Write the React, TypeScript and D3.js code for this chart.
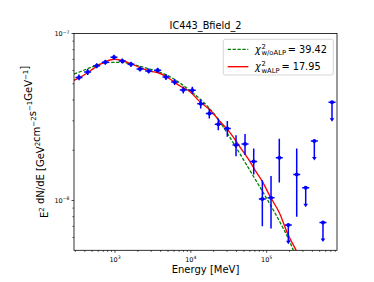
import React, { useEffect, useRef } from 'react';
import * as d3 from 'd3';

const W = 374;
const H = 282;
const FONT = '"DejaVu Sans", "Liberation Sans", sans-serif';

// Fermi-LAT SED points (detections)
const detEnergy = [335, 436, 574, 745, 970, 1248, 1626, 2136, 2782, 3654, 4700, 6120, 7950, 10450, 13490, 17510, 23000, 30250, 39400, 51800, 67400, 87600, 114000, 146600, 248700];
const detFlux = [5.46e-8, 5.88e-8, 6.41e-8, 6.72e-8, 7.2e-8, 6.84e-8, 6.54e-8, 6.13e-8, 5.96e-8, 6.02e-8, 5.49e-8, 5.12e-8, 4.59e-8, 4.57e-8, 3.79e-8, 3.32e-8, 2.86e-8, 2.7e-8, 2.15e-8, 2.18e-8, 1.71e-8, 1.02e-8, 1.04e-8, 1.8e-8, 1.43e-8];
const detFluxLo = [5.24e-8, 5.64e-8, 6.19e-8, 6.49e-8, 6.96e-8, 6.61e-8, 6.31e-8, 5.92e-8, 5.76e-8, 5.81e-8, 5.26e-8, 4.91e-8, 4.37e-8, 4.35e-8, 3.56e-8, 3.1e-8, 2.63e-8, 2.41e-8, 1.84e-8, 1.87e-8, 1.43e-8, 0.7e-8, 0.68e-8, 1.28e-8, 0.8e-8];
const detFluxHi = [5.69e-8, 6.13e-8, 6.64e-8, 6.96e-8, 7.45e-8, 7.08e-8, 6.77e-8, 6.34e-8, 6.17e-8, 6.23e-8, 5.72e-8, 5.34e-8, 4.81e-8, 4.79e-8, 4.03e-8, 3.56e-8, 3.1e-8, 2.99e-8, 2.46e-8, 2.5e-8, 2.05e-8, 1.32e-8, 1.4e-8, 2.34e-8, 2.05e-8];

// upper limits
const ulEnergy = [192700, 326700, 424700, 552000, 726000];
const ulFlux = [7.14e-9, 1.19e-8, 2.27e-8, 7.38e-9, 3.87e-8];

// model curves
const noAlpEnergy = [288, 346, 468, 634, 859, 1164, 1577, 2136, 2893, 3920, 5311, 7194, 9746, 13200, 17890, 24230, 32830, 44460, 60230, 81610, 110500, 149800, 202900, 243400];
const noAlpFlux = [5.72e-8, 5.9e-8, 6.24e-8, 6.56e-8, 6.72e-8, 6.72e-8, 6.59e-8, 6.36e-8, 6.12e-8, 5.85e-8, 5.51e-8, 5.05e-8, 4.55e-8, 4.05e-8, 3.53e-8, 2.95e-8, 2.38e-8, 1.9e-8, 1.51e-8, 1.2e-8, 9.5e-9, 7.41e-9, 5.62e-9, 4.57e-9];
const alpEnergy = [288, 346, 468, 634, 859, 1000, 1164, 1577, 2136, 2893, 3920, 5311, 7194, 9746, 13200, 17890, 24230, 32830, 44460, 60230, 70150, 86700, 110500, 149800, 185200, 243400, 275000];
const alpFlux = [5.24e-8, 5.46e-8, 5.96e-8, 6.54e-8, 6.94e-8, 7.01e-8, 6.94e-8, 6.63e-8, 6.24e-8, 5.96e-8, 5.76e-8, 5.34e-8, 4.85e-8, 4.48e-8, 3.9e-8, 3.48e-8, 2.97e-8, 2.55e-8, 2.09e-8, 1.71e-8, 1.52e-8, 1.31e-8, 1.06e-8, 8.28e-9, 6.46e-9, 5.04e-9, 4.5e-9];

const BIN_HALF_DEX = 0.046; // half bin width in log10(E)
const UL_DROP = 0.23; // arrow length as fraction of flux

const legendSubs = ['w/oALP', 'wALP'];
const legendChi2 = ['39.42', '17.95'];
const legendColors = ['#008000', '#ff0000'];
const legendDash = ['3.3 1.6', null];

const App: React.FC = () => {
  const svgRef = useRef<SVGSVGElement>(null);

  useEffect(() => {
    if (!svgRef.current) return;
    const svg = d3.select(svgRef.current);
    svg.selectAll('*').remove();

    const left = 74, right = 337, top = 33.5, bottom = 250.3;
    const x = d3.scaleLog().domain([288, 845000]).range([left, right]);
    const y = d3.scaleLog().domain([5.03e-9, 1e-7]).range([bottom, top]);

    svg.append('rect').attr('width', W).attr('height', H).attr('fill', '#fff');

    svg.append('defs').append('clipPath').attr('id', 'plot-clip')
      .append('rect').attr('x', left).attr('y', top)
      .attr('width', right - left).attr('height', bottom - top);

    // ticks
    const isMajor = (t: number) => Math.abs(Math.log10(t) - Math.round(Math.log10(t))) < 1e-9;
    const axis = svg.append('g').attr('stroke', '#000').attr('stroke-width', 0.7);
    x.ticks().forEach(t => {
      axis.append('line').attr('x1', x(t)).attr('x2', x(t))
        .attr('y1', bottom).attr('y2', bottom + (isMajor(t) ? 2.5 : 1.5));
    });
    y.ticks().forEach(t => {
      axis.append('line').attr('y1', y(t)).attr('y2', y(t))
        .attr('x1', left).attr('x2', left - (isMajor(t) ? 2.5 : 1.5));
    });

    const labels = svg.append('g').attr('font-family', FONT).attr('fill', '#000');
    x.ticks().filter(isMajor).forEach(t => {
      const txt = labels.append('text').attr('x', x(t)).attr('y', 261.5)
        .attr('text-anchor', 'middle').attr('font-size', 6.5).text('10');
      txt.append('tspan').attr('dy', -2.8).attr('font-size', 4.6).text(String(Math.round(Math.log10(t))));
    });
    y.ticks().filter(isMajor).forEach(t => {
      const e = Math.round(Math.log10(t));
      const txt = labels.append('text').attr('x', 69.5).attr('y', y(t) + 2.8)
        .attr('text-anchor', 'end').attr('font-size', 6.5).text('10');
      txt.append('tspan').attr('dy', -2.8).attr('font-size', 4.6).text('\u2212' + Math.abs(e));
    });

    // title and axis labels
    labels.append('text').attr('x', (left + right) / 2).attr('y', 29)
      .attr('text-anchor', 'middle').attr('font-size', 9.75).text('IC443_Bfield_2');
    labels.append('text').attr('x', (left + right) / 2).attr('y', 273)
      .attr('text-anchor', 'middle').attr('font-size', 10).text('Energy [MeV]');

    const yl = labels.append('text')
      .attr('transform', `translate(47.5,${(top + bottom) / 2}) rotate(-90)`)
      .attr('text-anchor', 'middle').attr('font-size', 10);
    const sup = (s: string) => {
      yl.append('tspan').attr('dy', -4).attr('font-size', 7).text(s);
      yl.append('tspan').attr('dy', 4).text('');
    };
    yl.append('tspan').text('E');
    sup('2');
    yl.append('tspan').text(' dN/dE [GeV');
    sup('2');
    yl.append('tspan').text('cm');
    sup('\u22122');
    yl.append('tspan').text('s');
    sup('\u22121');
    yl.append('tspan').text('GeV');
    sup('\u22121');
    yl.append('tspan').text(']');

    // model curves
    const plot = svg.append('g').attr('clip-path', 'url(#plot-clip)');
    const pathOf = (es: number[], fs: number[]) =>
      d3.line<[number, number]>()
        .x(d => x(d[0]))
        .y(d => y(d[1]))
        .curve(d3.curveMonotoneX)(es.map((e, i) => [e, fs[i]]));

    plot.append('path').attr('d', pathOf(noAlpEnergy, noAlpFlux)!)
      .attr('fill', 'none').attr('stroke', '#008000').attr('stroke-width', 1.3)
      .attr('stroke-dasharray', '3.3 1.6');
    plot.append('path').attr('d', pathOf(alpEnergy, alpFlux)!)
      .attr('fill', 'none').attr('stroke', '#ff0000').attr('stroke-width', 1.35);

    // data points
    const pts = plot.append('g').attr('stroke', '#0000ff').attr('fill', '#0000ff').attr('stroke-width', 1.5);
    const f = Math.pow(10, BIN_HALF_DEX);
    detEnergy.forEach((e, i) => {
      pts.append('line').attr('x1', x(e / f)).attr('x2', x(e * f))
        .attr('y1', y(detFlux[i])).attr('y2', y(detFlux[i]));
      pts.append('line').attr('x1', x(e)).attr('x2', x(e))
        .attr('y1', y(detFluxLo[i])).attr('y2', y(detFluxHi[i]));
      pts.append('circle').attr('cx', x(e)).attr('cy', y(detFlux[i])).attr('r', 2).attr('stroke', 'none');
    });
    ulEnergy.forEach((e, i) => {
      const y0 = y(ulFlux[i]);
      const y1 = y(ulFlux[i] * (1 - UL_DROP));
      const cx = x(e);
      pts.append('line').attr('x1', x(e / f)).attr('x2', x(e * f)).attr('y1', y0).attr('y2', y0);
      pts.append('line').attr('x1', cx).attr('x2', cx).attr('y1', y0).attr('y2', y1 - 2);
      pts.append('circle').attr('cx', cx).attr('cy', y0).attr('r', 2).attr('stroke', 'none');
      pts.append('path').attr('d', `M${cx - 2.3},${y1 - 3}L${cx + 2.3},${y1 - 3}L${cx},${y1 + 0.5}Z`)
        .attr('stroke', 'none');
    });

    // frame
    svg.append('rect').attr('x', left).attr('y', top)
      .attr('width', right - left).attr('height', bottom - top)
      .attr('fill', 'none').attr('stroke', '#000').attr('stroke-width', 0.8);

    // legend
    const lg = svg.append('g').attr('font-family', FONT);
    lg.append('rect').attr('x', 223.3).attr('y', 39.3).attr('width', 110).attr('height', 35.7)
      .attr('rx', 2).attr('fill', '#fff').attr('fill-opacity', 0.8)
      .attr('stroke', '#cccccc').attr('stroke-width', 0.8);
    legendSubs.forEach((sub, i) => {
      const cy = 49.3 + i * 17.4;
      const base = 52.7 + i * 17.4;
      const ln = lg.append('line').attr('x1', 227.7).attr('x2', 248.3).attr('y1', cy).attr('y2', cy)
        .attr('stroke', legendColors[i]).attr('stroke-width', i === 0 ? 1.3 : 1.35);
      if (legendDash[i]) ln.attr('stroke-dasharray', legendDash[i]!);
      lg.append('text').attr('x', 255).attr('y', base).attr('font-size', 9.75)
        .attr('font-style', 'italic').text('\u03c7');
      lg.append('text').attr('x', 261.5).attr('y', base - 4).attr('font-size', 6.8).text('2');
      const subText = lg.append('text').attr('x', 261.5).attr('y', base + 2.5).attr('font-size', 6.8).text(sub);
      const sw = (subText.node() as SVGTextElement).getComputedTextLength();
      lg.append('text').attr('x', 261.5 + sw + 1.8).attr('y', base).attr('font-size', 9.75)
        .text('= ' + legendChi2[i]);
    });
  }, []);

  return (
    <div style={{ position: 'absolute', left: 0, top: 0 }}>
      <svg ref={svgRef} width={W} height={H} style={{ display: 'block' }} />
    </div>
  );
};

export default App;
